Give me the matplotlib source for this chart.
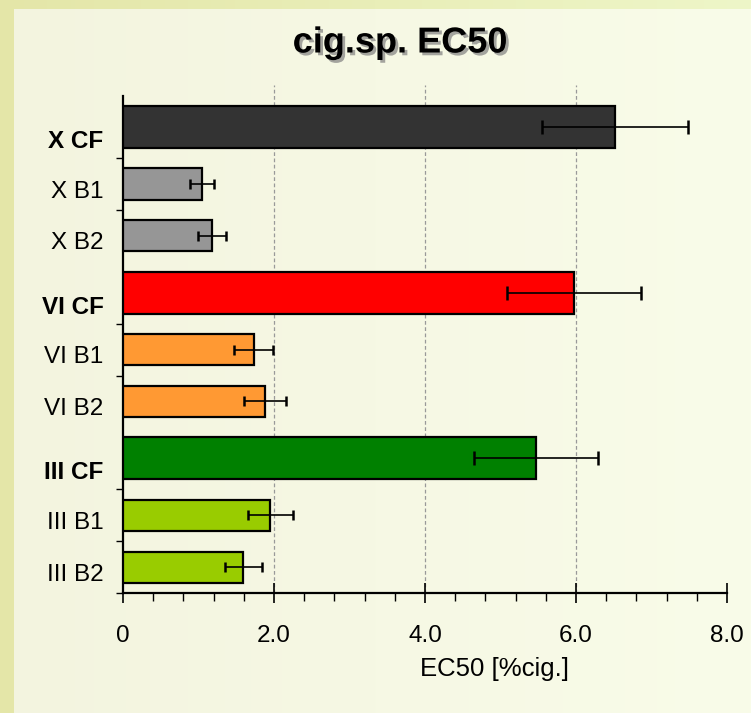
import numpy as np
import matplotlib
matplotlib.use("Agg")
import matplotlib.pyplot as plt
import matplotlib.patheffects as pe
from matplotlib.transforms import ScaledTranslation
from matplotlib.ticker import FixedLocator, MultipleLocator

# EC50 values
labels = ["X CF", "X B1", "X B2", "VI CF", "VI B1", "VI B2", "III CF", "III B1", "III B2"]
ec50 = [6.52, 1.05, 1.18, 5.97, 1.73, 1.88, 5.47, 1.95, 1.59]
err = [0.97, 0.16, 0.19, 0.89, 0.26, 0.28, 0.82, 0.30, 0.245]
colors = ["#333333", "#969696", "#969696", "#FF0000", "#FF9933", "#FF9933",
          "#008000", "#99CC00", "#99CC00"]
x_ticks = [0, 2, 4, 6, 8]
x_ticklabels = ["0", "2.0", "4.0", "6.0", "8.0"]

plt.rcParams['font.family'] = ['Liberation Sans', 'DejaVu Sans']

W, H = 751, 713
fig = plt.figure(figsize=(W / 100, H / 100), dpi=100)

# background: yellowish frame + lighter panel, slight left->right gradient
bg = fig.add_axes([0, 0, 1, 1], zorder=-10)
bg.axis("off")
t = np.linspace(0, 1, W)[None, :, None]
outer_l = np.array([0xE4, 0xE6, 0xA8]) / 255
outer_r = np.array([0xEE, 0xF6, 0xC8]) / 255
inner_l = np.array([0xF3, 0xF4, 0xDF]) / 255
inner_r = np.array([0xF9, 0xFC, 0xE9]) / 255
img = np.ones((H, W, 3)) * (outer_l + (outer_r - outer_l) * t)
inner = inner_l + (inner_r - inner_l) * t
img[9:, 14:, :] = np.broadcast_to(inner, (H, W, 3))[9:, 14:, :]
bg.imshow(img, aspect="auto", extent=[0, 1, 0, 1])
bg.set_xlim(0, 1)
bg.set_ylim(0, 1)

# slot layout, CF slots a bit taller (as in the excel chart)
is_cf = ["CF" in l for l in labels]
slot = np.array([1.2 if c else 1.0 for c in is_cf])
edges = np.concatenate([[0], np.cumsum(slot)])
centers = (edges[:-1] + edges[1:]) / 2
heights = [0.81 if c else 0.6 for c in is_cf]

ax = fig.add_axes([123 / W, 1 - 593 / H, 604 / W, 497 / H])
ax.patch.set_alpha(0)

ax.barh(centers, ec50, height=heights, color=colors, edgecolor="black",
        linewidth=1.6, zorder=3)
for i in range(len(labels)):
    cs = 5 if is_cf[i] else 3.8
    ax.errorbar(ec50[i], centers[i], xerr=err[i], fmt="none", ecolor="black",
                elinewidth=1.2, capsize=cs, capthick=1.8, zorder=4)

ax.set_xlim(0, 8)
ax.set_ylim(edges[-1], 0)

# dashed gridlines, poking a bit above the plot like the original
for gx in [2, 4, 6]:
    ax.axvline(gx, ymin=0, ymax=1.022, color="#999999", linewidth=0.9,
               linestyle=(0, (3, 2)), zorder=1, clip_on=False)

for s in ["top", "right"]:
    ax.spines[s].set_visible(False)
ax.spines["left"].set_linewidth(1.6)
ax.spines["bottom"].set_linewidth(1.6)

ax.set_xticks(x_ticks)
ax.set_xticklabels(x_ticklabels, fontsize=17.5)
ax.xaxis.set_minor_locator(MultipleLocator(0.4))
ax.tick_params(axis="x", which="major", direction="inout", length=14, width=1.2, pad=16)
ax.tick_params(axis="x", which="minor", direction="out", length=6, width=1.0)

ax.set_yticks(centers)
ax.set_yticklabels(labels, fontsize=17.5)
ax.tick_params(axis="y", which="major", length=0, pad=14)
inner_edges = [edges[k] for k in [1, 2, 4, 5, 7, 8, 9]]
ax.yaxis.set_minor_locator(FixedLocator(inner_edges))
ax.tick_params(axis="y", which="minor", direction="out", length=5, width=1.0)

for i, tl in enumerate(ax.get_yticklabels()):
    dy = -12 if is_cf[i] else -5
    tl.set_transform(tl.get_transform() + ScaledTranslation(0, dy / 100, fig.dpi_scale_trans))
    if is_cf[i]:
        tl.set_fontweight("bold")

fig.text(400 / W, 1 - 43 / H, "cig.sp. EC50", fontsize=26, fontweight="bold",
         ha="center", va="center",
         path_effects=[pe.withSimplePatchShadow(offset=(2, -2), shadow_rgbFace="#808080", alpha=0.7)])
fig.text(494 / W, 1 - 669 / H, "EC50 [%cig.]", fontsize=18.5, ha="center", va="center")

fig.savefig("out.png", dpi=100)
